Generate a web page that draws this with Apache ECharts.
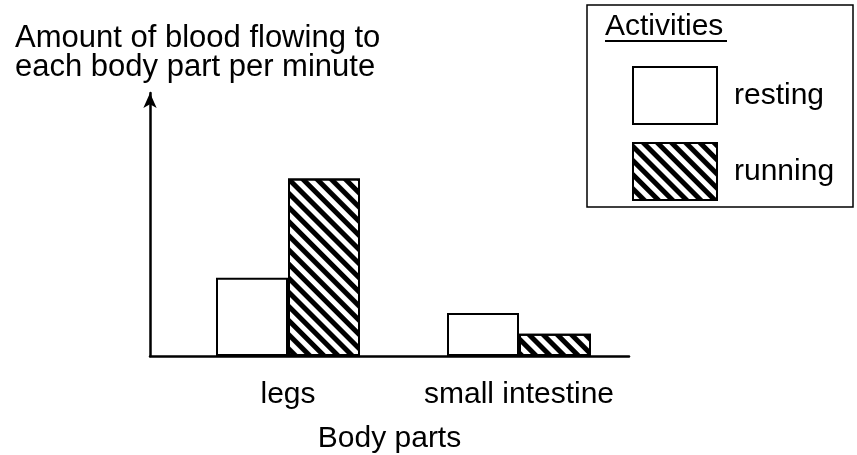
<!DOCTYPE html>
<html>
<head>
<meta charset="utf-8">
<script src="https://cdn.jsdelivr.net/npm/echarts@6/dist/echarts.min.js"></script>
<style>html,body{margin:0;padding:0;background:#fff;}#c{width:857px;height:455px;}</style>
</head>
<body>
<div id="c"></div>
<script>
var categories = ['legs', 'small intestine'];
var resting = [30, 16.5];
var running = [68, 8.5];
var legendTitle = 'Activities';
var yTitle = 'Amount of blood flowing to\neach body part per minute';
var xTitle = 'Body parts';

var FONT = '"Liberation Sans", Arial, sans-serif';
var chart = echarts.init(document.getElementById('c'));
var hatch = {
  symbol: 'rect', symbolSize: 1,
  dashArrayX: [1, 0], dashArrayY: [5, 4.5],
  rotation: Math.PI / 4, color: '#000'
};
chart.setOption({
  animation: false,
  backgroundColor: '#fff',
  title: {
    text: yTitle, left: 15, top: 24, padding: 0,
    textStyle: { fontFamily: FONT, fontSize: 31, lineHeight: 29, fontWeight: 'normal', color: '#000' }
  },
  legend: {
    orient: 'vertical', left: 632, top: 66, padding: 0,
    itemWidth: 84, itemHeight: 57, itemGap: 17,
    icon: 'rect',
    data: ['resting', 'running'],
    itemStyle: { borderColor: '#000', borderWidth: 2 },
    textStyle: { fontFamily: FONT, fontSize: 30, color: '#000', padding: [0, 0, 0, 12] }
  },
  graphic: [
    { type: 'rect', shape: { x: 587, y: 5, width: 266, height: 202 }, style: { fill: 'none', stroke: '#000', lineWidth: 1.5 } },
    { type: 'text', x: 605, y: 27, style: { text: legendTitle, font: '30px ' + FONT, fill: '#000', textVerticalAlign: 'middle' } },
    { type: 'line', shape: { x1: 605, y1: 41, x2: 727, y2: 41 }, style: { stroke: '#000', lineWidth: 2 } }
  ],
  grid: [
    { left: 172.5, right: 222.5, top: 95, bottom: 99, outerBoundsMode: 'none', containLabel: false },
    { left: 150, right: 228, top: 93, bottom: 99, outerBoundsMode: 'none', containLabel: false }
  ],
  xAxis: [
    {
      type: 'category', gridIndex: 0, data: categories,
      axisLine: { show: false }, axisTick: { show: false },
      axisLabel: { interval: 0, fontFamily: FONT, fontSize: 30, color: '#000', margin: 24, lineHeight: 30 }
    },
    {
      type: 'value', gridIndex: 1, min: 0, max: 1,
      name: xTitle, nameLocation: 'middle', nameGap: 68,
      nameTextStyle: { fontFamily: FONT, fontSize: 30, color: '#000', lineHeight: 30 },
      axisLine: { show: true, lineStyle: { color: '#000', width: 2.5 } },
      axisTick: { show: false }, axisLabel: { show: false }, splitLine: { show: false }
    }
  ],
  yAxis: [
    { type: 'value', gridIndex: 0, min: 0, max: 100, show: false },
    {
      type: 'value', gridIndex: 1, min: 0, max: 1,
      axisLine: { show: true, symbol: ['none', 'arrow'], symbolSize: [10, 15], lineStyle: { color: '#000', width: 2.5 } },
      axisTick: { show: false }, axisLabel: { show: false }, splitLine: { show: false }
    }
  ],
  series: [
    {
      name: 'resting', type: 'bar', xAxisIndex: 0, yAxisIndex: 0, data: resting,
      barWidth: 72, barGap: '0%',
      itemStyle: { color: '#fff', borderColor: '#000', borderWidth: 2 }
    },
    {
      name: 'running', type: 'bar', xAxisIndex: 0, yAxisIndex: 0, data: running,
      barWidth: 72, barGap: '0%',
      itemStyle: { color: '#fff', borderColor: '#000', borderWidth: 2, decal: hatch }
    }
  ]
});
</script>
</body>
</html>
